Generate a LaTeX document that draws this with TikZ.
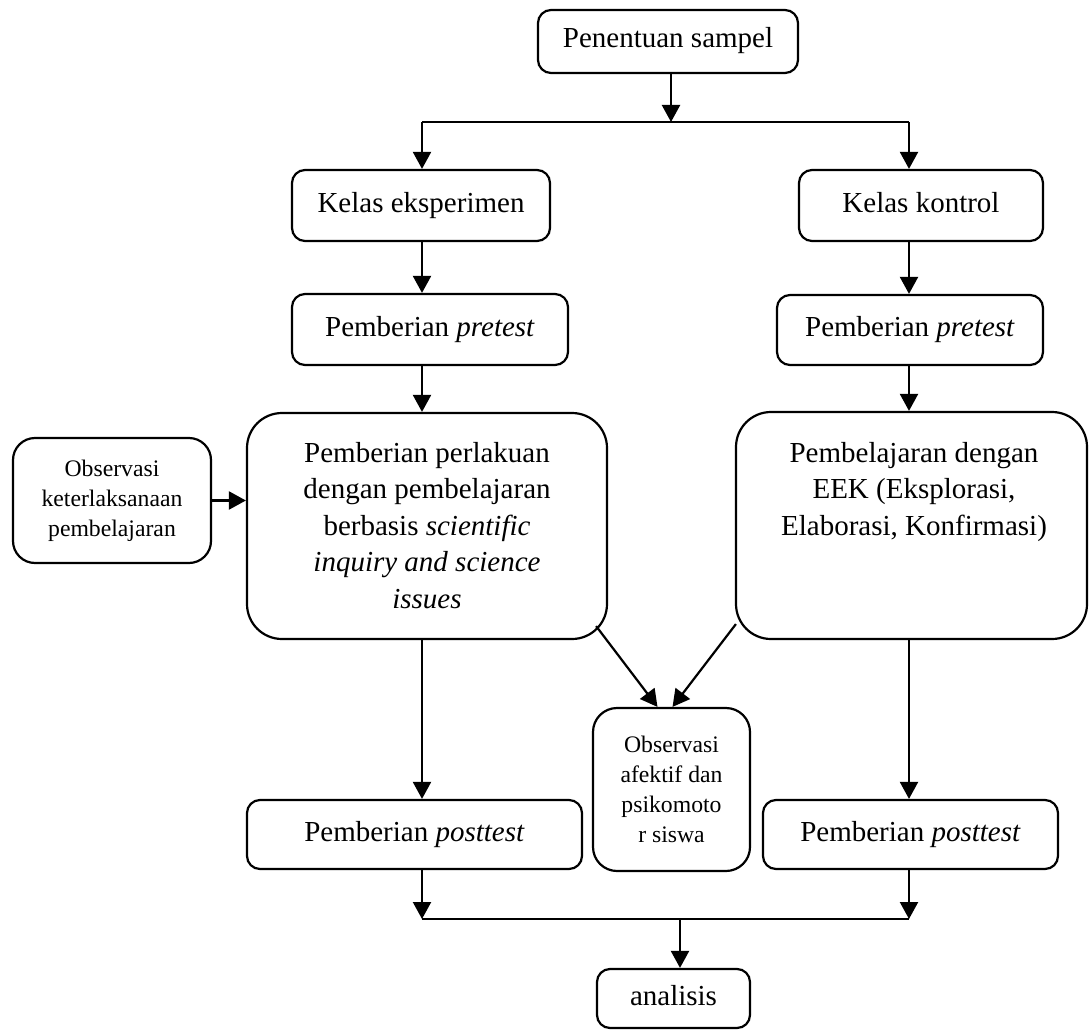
\documentclass[tikz,border=0pt]{standalone}
\usepackage{fontspec}
\setmainfont{Liberation Serif}
\usetikzlibrary{arrows.meta,calc}
\begin{document}
\begin{tikzpicture}[x=1pt,y=-1pt,
  box/.style={draw,line width=2.2pt,rounded corners=13pt,inner sep=0pt,align=center,font=\fontsize{29}{36}\selectfont},
  one/.style={text height=20pt,text depth=7pt},
  bigbox/.style={box,rounded corners=35pt},
  smallbox/.style={box,rounded corners=24pt,font=\fontsize{23.7}{30}\selectfont},
  txt/.style={inner sep=0pt,align=center,anchor=north,font=\fontsize{29}{36.5}\selectfont},
  arr/.style={line width=2.2pt,-{Triangle[width=18pt,length=17pt]}},
  ln/.style={line width=2.2pt}]
\useasboundingbox (0,0) rectangle (1089,1030);
% nodes
\node[box,one,minimum width=260pt,minimum height=63pt] (pen) at (668,41.5) {Penentuan sampel};
\node[box,one,minimum width=258pt,minimum height=71pt] (ke) at (421,205.5) {Kelas eksperimen};
\node[box,one,minimum width=244pt,minimum height=71pt] (kk) at (921,205.5) {Kelas kontrol};
\node[box,one,minimum width=276pt,minimum height=71pt] (pl) at (430,329.5) {Pemberian \textit{pretest}};
\node[box,one,minimum width=266pt,minimum height=70pt] (pr) at (910,330) {Pemberian \textit{pretest}};
\node[bigbox,minimum width=360pt,minimum height=226pt] (bl) at (427,526) {};
\node[bigbox,minimum width=351pt,minimum height=227pt] (br) at (911.5,525.5) {};
\node[txt] (blt) at (427,442) {Pemberian perlakuan\\dengan pembelajaran\\berbasis \textit{scientific}\\\textit{inquiry and science}\\\textit{issues}};
\node[txt] (brt) at (914,442) {Pembelajaran dengan\\EEK (Eksplorasi,\\Elaborasi, Konfirmasi)};
\node[smallbox,rounded corners=22pt,minimum width=198pt,minimum height=125pt] (obs) at (112,500.5) {Observasi\\keterlaksanaan\\pembelajaran};
\node[smallbox,minimum width=157pt,minimum height=163pt] (mid) at (671.5,789.5) {Observasi\\afektif dan\\psikomoto\\r siswa};
\node[box,one,minimum width=335pt,minimum height=69pt] (ql) at (414.5,834.5) {Pemberian \textit{posttest}};
\node[box,one,minimum width=295pt,minimum height=69pt] (qr) at (910.5,834.5) {Pemberian \textit{posttest}};
\node[box,one,minimum width=153pt,minimum height=59pt] (an) at (673.5,998.5) {analisis};
% helper coordinates
\coordinate (tl) at (422,122);
\coordinate (tm) at (671,122);
\coordinate (tr) at (909,122);
\coordinate (bl2) at (422,919);
\coordinate (bm) at (680,919);
\coordinate (br2) at (909,919);
\coordinate (d1) at ([shift={(-12,-14)}]bl.south east);
\coordinate (d2) at ([shift={(1,-16)}]br.south west);
% connectors
\draw[arr] (pen.south -| tm) -- (tm);
\draw[ln] (tl) -- (tr);
\draw[arr] (tl) -- (tl |- ke.north);
\draw[arr] (tr) -- (tr |- kk.north);
\draw[arr] (ke.south -| tl) -- (pl.north -| tl);
\draw[arr] (kk.south -| tr) -- (pr.north -| tr);
\draw[arr] (pl.south -| tl) -- (bl.north -| tl);
\draw[arr] (pr.south -| tr) -- (br.north -| tr);
\draw[arr] (obs.east) -- (obs.east -| bl.west);
\draw[arr] (bl.south -| tl) -- (ql.north -| tl);
\draw[arr] (br.south -| tr) -- (qr.north -| tr);
\draw[arr] (d1) -- ([xshift=-14pt]mid.north);
\draw[arr] (d2) -- ([xshift=1pt]mid.north);
\draw[arr] (ql.south -| bl2) -- (bl2);
\draw[arr] (qr.south -| br2) -- (br2);
\draw[ln] (bl2) -- (br2);
\draw[arr] (bm) -- (an.north -| bm);
\end{tikzpicture}
\end{document}
